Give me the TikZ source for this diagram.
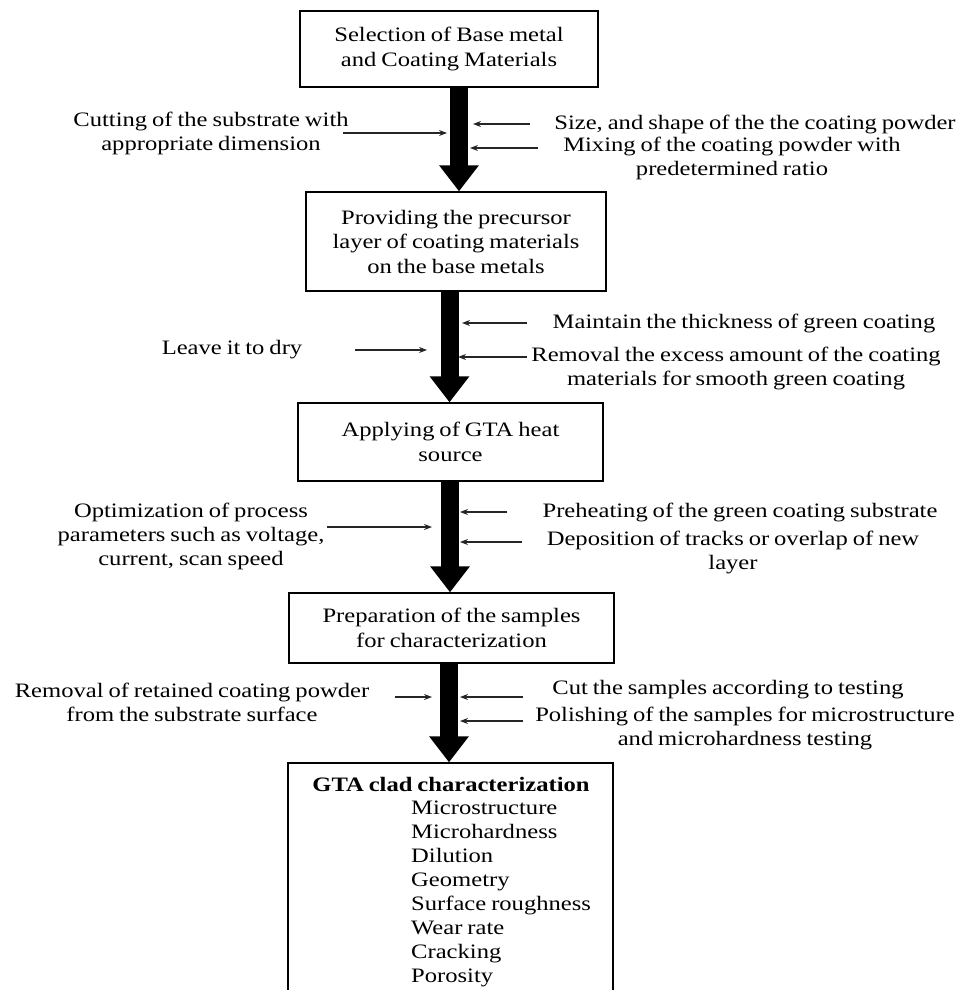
\documentclass[tikz,border=0pt]{standalone}
\usepackage{fontspec}
\setmainfont{Liberation Serif}[FakeStretch=1.2,WordSpace=0.8]
\usetikzlibrary{arrows.meta}
\begin{document}
\begin{tikzpicture}[x=1pt,y=-1pt,
  box/.style={draw=black, line width=1.3pt, inner sep=0pt, align=center,
    font=\fontsize{20.5}{24.5}\selectfont},
  txt/.style={inner sep=0pt, align=center, font=\fontsize{20.5}{24}\selectfont},
  big/.style={line width=18pt, -{Triangle[length=26pt,width=38pt]}},
  small/.style={line width=1.1pt, draw=black!85, -{Stealth[length=8pt,width=6pt]}}]
\useasboundingbox (0,0) rectangle (974,990);
\fill[white] (0,0) rectangle (974,990);

% boxes
\node[box, minimum width=298, minimum height=76] (b1) at (449,49)
  {Selection of Base metal\\and Coating Materials};
\node[box, minimum width=300, minimum height=99] (b2) at (456,241.5)
  {Providing the precursor\\layer of coating materials\\on the base metals};
\node[box, minimum width=305, minimum height=78] (b3) at (450.5,442)
  {Applying of GTA heat\\source};
\node[box, minimum width=325, minimum height=70] (b4) at (451.5,628)
  {Preparation of the samples\\for characterization};
\node[box, minimum width=325, minimum height=240] (b5) at (450.5,883) {};
\node[txt, font=\fontsize{20.5}{24}\selectfont\bfseries] (t5) at (451,784)
  {GTA clad characterization};
\node[txt, align=left, anchor=north west, font=\fontsize{20.5}{23.9}\selectfont] (l5) at (411,801)
  {Microstructure\\Microhardness\\Dilution\\Geometry\\Surface roughness\\Wear rate\\Cracking\\Porosity};

% big arrows
\coordinate (c1) at (459,0);
\coordinate (c2) at (449.5,0);
\coordinate (c3) at (450,0);
\coordinate (c4) at (449,0);
\draw[big] (b1.south -| c1) -- (b2.north -| c1);
\draw[big] (b2.south -| c2) -- (b3.north -| c2);
\draw[big] (b3.south -| c3) -- (b4.north -| c3);
\draw[big] (b4.south -| c4) -- (b5.north -| c4);

% row 1
\node[txt] (r1l) at (211,133.5) {Cutting of the substrate with\\appropriate dimension};
\node[txt] (r1a) at (755,124) {Size, and shape of the the coating powder};
\node[txt] (r1b) at (732,158.5) {Mixing of the coating powder with\\predetermined ratio};
\coordinate (r1lp) at (447,133);
\coordinate (r1ap) at (473,124);
\coordinate (r1bp) at (470,148);
\draw[small] (343,133) -- (r1lp);
\draw[small] (530,124) -- (r1ap);
\draw[small] (538,148) -- (r1bp);

% row 2
\node[txt] (r2l) at (232,350) {Leave it to dry};
\node[txt] (r2a) at (744,323) {Maintain the thickness of green coating};
\node[txt] (r2b) at (736,368) {Removal the excess amount of the coating\\materials for smooth green coating};
\coordinate (r2lp) at (427,350);
\coordinate (r2ap) at (462,323);
\coordinate (r2bp) at (458,357);
\draw[small] (355,350) -- (r2lp);
\draw[small] (527,323) -- (r2ap);
\draw[small] (527,357) -- (r2bp);

% row 3
\node[txt] (r3l) at (191,536) {Optimization of process\\parameters such as voltage,\\current, scan speed};
\node[txt] (r3a) at (740,512) {Preheating of the green coating substrate};
\node[txt] (r3b) at (733,552) {Deposition of tracks or overlap of new\\layer};
\coordinate (r3lp) at (432,527);
\coordinate (r3ap) at (460,512);
\coordinate (r3bp) at (460,542);
\draw[small] (327,527) -- (r3lp);
\draw[small] (507,512) -- (r3ap);
\draw[small] (522,542) -- (r3bp);

% row 4
\node[txt] (r4l) at (192,702) {Removal of retained coating powder\\from the substrate surface};
\node[txt] (r4a) at (728,690) {Cut the samples according to testing};
\node[txt] (r4b) at (745,728) {Polishing of the samples for microstructure\\and microhardness testing};
\coordinate (r4lp) at (432,697);
\coordinate (r4ap) at (460,697);
\coordinate (r4bp) at (460,721);
\draw[small] (395,697) -- (r4lp);
\draw[small] (523,697) -- (r4ap);
\draw[small] (523,721) -- (r4bp);
\end{tikzpicture}
\end{document}
